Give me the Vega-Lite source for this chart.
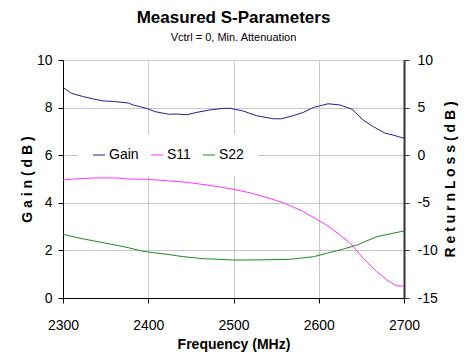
{
  "$schema": "https://vega.github.io/schema/vega-lite/v6.json",
  "autosize": {"type": "none"},
  "padding": {"left": 63, "top": 60, "right": 64, "bottom": 64},
  "width": 341,
  "height": 238,
  "background": "white",
  "title": {
    "text": "Measured S-Parameters",
    "subtitle": "Vctrl = 0, Min. Attenuation",
    "anchor": "middle",
    "font": "Liberation Sans, Arial, sans-serif",
    "fontSize": 17,
    "fontWeight": "bold",
    "color": "black",
    "subtitleFont": "Liberation Sans, Arial, sans-serif",
    "subtitleFontSize": 11,
    "subtitleColor": "black",
    "subtitlePadding": 5,
    "offset": 9
  },
  "config": {
    "view": {"stroke": null},
    "font": "Liberation Sans, Arial, sans-serif",
    "axis": {
      "labelFont": "Liberation Sans, Arial, sans-serif",
      "titleFont": "Liberation Sans, Arial, sans-serif",
      "labelColor": "black",
      "titleColor": "black",
      "labelFontSize": 14,
      "titleFontSize": 14,
      "titleFontWeight": "bold",
      "gridColor": "#c8c8c8",
      "gridWidth": 1,
      "domainColor": "black",
      "tickColor": "black"
    },
    "legend": {
      "labelFont": "Liberation Sans, Arial, sans-serif"
    }
  },
  "datasets": {
    "gain": [
      {"f": 2300, "s": "Gain", "v": 8.85},
      {"f": 2310, "s": "Gain", "v": 8.60},
      {"f": 2324, "s": "Gain", "v": 8.46},
      {"f": 2336, "s": "Gain", "v": 8.36},
      {"f": 2347, "s": "Gain", "v": 8.28},
      {"f": 2359, "s": "Gain", "v": 8.26},
      {"f": 2377, "s": "Gain", "v": 8.19},
      {"f": 2382, "s": "Gain", "v": 8.11},
      {"f": 2398, "s": "Gain", "v": 7.97},
      {"f": 2408, "s": "Gain", "v": 7.83},
      {"f": 2424, "s": "Gain", "v": 7.72},
      {"f": 2433, "s": "Gain", "v": 7.73},
      {"f": 2445, "s": "Gain", "v": 7.70},
      {"f": 2457, "s": "Gain", "v": 7.80},
      {"f": 2472, "s": "Gain", "v": 7.90},
      {"f": 2488, "s": "Gain", "v": 7.97},
      {"f": 2496, "s": "Gain", "v": 7.97},
      {"f": 2511, "s": "Gain", "v": 7.86},
      {"f": 2527, "s": "Gain", "v": 7.66},
      {"f": 2547, "s": "Gain", "v": 7.53},
      {"f": 2556, "s": "Gain", "v": 7.53},
      {"f": 2570, "s": "Gain", "v": 7.66},
      {"f": 2582, "s": "Gain", "v": 7.80},
      {"f": 2594, "s": "Gain", "v": 8.01},
      {"f": 2611, "s": "Gain", "v": 8.16},
      {"f": 2625, "s": "Gain", "v": 8.11},
      {"f": 2639, "s": "Gain", "v": 7.93},
      {"f": 2652, "s": "Gain", "v": 7.48},
      {"f": 2664, "s": "Gain", "v": 7.20},
      {"f": 2678, "s": "Gain", "v": 6.92},
      {"f": 2687, "s": "Gain", "v": 6.85},
      {"f": 2700, "s": "Gain", "v": 6.71}
    ],
    "rl": [
      {"f": 2300, "s": "S11", "v": -2.61},
      {"f": 2312, "s": "S11", "v": -2.50},
      {"f": 2336, "s": "S11", "v": -2.39},
      {"f": 2363, "s": "S11", "v": -2.39},
      {"f": 2375, "s": "S11", "v": -2.50},
      {"f": 2398, "s": "S11", "v": -2.53},
      {"f": 2422, "s": "S11", "v": -2.68},
      {"f": 2445, "s": "S11", "v": -2.85},
      {"f": 2469, "s": "S11", "v": -3.13},
      {"f": 2498, "s": "S11", "v": -3.55},
      {"f": 2519, "s": "S11", "v": -3.94},
      {"f": 2542, "s": "S11", "v": -4.53},
      {"f": 2560, "s": "S11", "v": -5.05},
      {"f": 2582, "s": "S11", "v": -5.93},
      {"f": 2599, "s": "S11", "v": -6.81},
      {"f": 2609, "s": "S11", "v": -7.33},
      {"f": 2625, "s": "S11", "v": -8.38},
      {"f": 2639, "s": "S11", "v": -9.43},
      {"f": 2652, "s": "S11", "v": -10.83},
      {"f": 2668, "s": "S11", "v": -12.24},
      {"f": 2680, "s": "S11", "v": -13.11},
      {"f": 2691, "s": "S11", "v": -13.71},
      {"f": 2700, "s": "S11", "v": -13.74},
      {"f": 2300, "s": "S22", "v": -8.31},
      {"f": 2320, "s": "S22", "v": -8.73},
      {"f": 2347, "s": "S22", "v": -9.19},
      {"f": 2375, "s": "S22", "v": -9.68},
      {"f": 2392, "s": "S22", "v": -10.06},
      {"f": 2406, "s": "S22", "v": -10.24},
      {"f": 2422, "s": "S22", "v": -10.41},
      {"f": 2441, "s": "S22", "v": -10.66},
      {"f": 2465, "s": "S22", "v": -10.87},
      {"f": 2484, "s": "S22", "v": -10.94},
      {"f": 2500, "s": "S22", "v": -11.01},
      {"f": 2519, "s": "S22", "v": -11.01},
      {"f": 2566, "s": "S22", "v": -10.94},
      {"f": 2594, "s": "S22", "v": -10.66},
      {"f": 2609, "s": "S22", "v": -10.31},
      {"f": 2629, "s": "S22", "v": -9.85},
      {"f": 2645, "s": "S22", "v": -9.43},
      {"f": 2668, "s": "S22", "v": -8.56},
      {"f": 2700, "s": "S22", "v": -7.96}
    ]
  },
  "encoding": {
    "x": {
      "field": "f",
      "type": "quantitative",
      "scale": {"domain": [2300, 2700], "nice": false, "zero": false},
      "axis": {
        "title": "Frequency (MHz)",
        "values": [2300, 2400, 2500, 2600, 2700],
        "format": "d",
        "grid": true,
        "tickSize": 5,
        "labelPadding": 15,
        "titlePadding": 5,
        "labelFlush": false
      }
    },
    "color": {
      "field": "s",
      "type": "nominal",
      "scale": {"domain": ["Gain", "S11", "S22"], "range": ["#1f1f96", "#ff33ff", "#1e8c1e"]},
      "legend": {
        "title": null,
        "orient": "none",
        "legendX": 15,
        "legendY": 74,
        "direction": "horizontal",
        "fillColor": "white",
        "padding": 14,
        "symbolType": "stroke",
        "symbolStrokeWidth": 1,
        "symbolSize": 144,
        "labelFontSize": 14,
        "labelColor": "black",
        "labelOffset": 3,
        "columnPadding": 10
      }
    }
  },
  "layer": [
    {
      "data": {"name": "gain"},
      "mark": {"type": "line", "strokeWidth": 1},
      "encoding": {
        "y": {
          "field": "v",
          "type": "quantitative",
          "scale": {"domain": [0, 10], "nice": false},
          "axis": {
            "title": "G a i n  ( d B )",
            "values": [0, 2, 4, 6, 8, 10],
            "grid": true,
            "tickSize": 5,
            "labelPadding": 6,
            "titlePadding": 2
          }
        }
      }
    },
    {
      "data": {"name": "rl"},
      "mark": {"type": "line", "strokeWidth": 1},
      "encoding": {
        "y": {
          "field": "v",
          "type": "quantitative",
          "scale": {"domain": [-15, 10], "nice": false, "zero": false},
          "axis": {
            "orient": "right",
            "title": "R e t u r n  L o s s  ( d B )",
            "titleAngle": 270,
            "titleX": 46,
            "titleY": 119,
            "titleAlign": "center",
            "titleBaseline": "middle",
            "values": [-15, -10, -5, 0, 5, 10],
            "labelExpr": "toString(datum.value)",
            "grid": false,
            "tickSize": 5,
            "labelPadding": 8,
            "domainColor": "#333333",
            "domainWidth": 2,
            "tickColor": "#333333"
          }
        }
      }
    }
  ],
  "resolve": {"scale": {"y": "independent"}}
}
